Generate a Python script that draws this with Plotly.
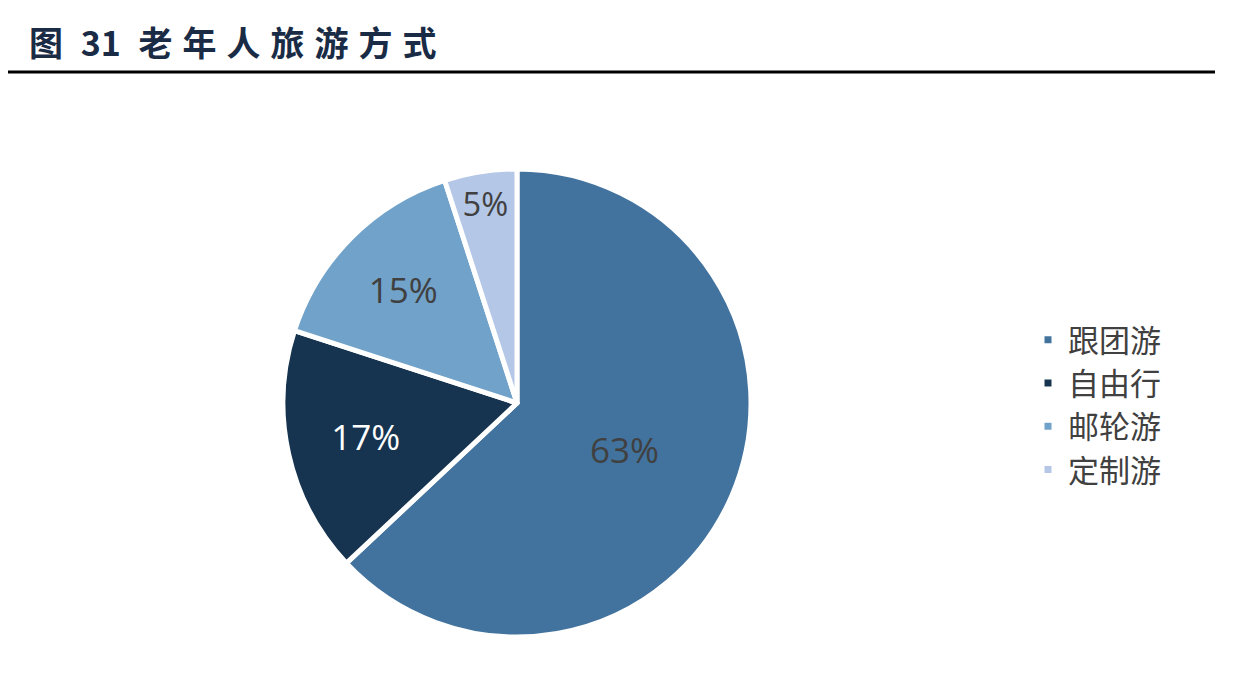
import plotly.graph_objects as go

# datos del grafico
labels = ["跟团游", "自由行", "邮轮游", "定制游"]
values = [63, 17, 15, 5]
colores = ["#42739E", "#16344F", "#71A2C9", "#B4C7E7"]
colores_texto = ["#404040", "#FFFFFF", "#404040", "#404040"]

W, H = 1242, 674
off = 8  # margen del body de la pagina
cx, cy, r = 517 - off, 403 - off, 234

fig = go.Figure()
fig.add_trace(go.Pie(
    labels=labels,
    values=values,
    sort=False,
    direction="clockwise",
    rotation=0,
    textinfo="percent",
    texttemplate="%{percent:.0%}",
    textposition="inside",
    insidetextorientation="horizontal",
    textfont=dict(family="Open Sans, Noto Sans", size=35, color=colores_texto),
    marker=dict(colors=colores, line=dict(color="white", width=5)),
    domain=dict(x=[(cx - r) / W, (cx + r) / W], y=[(H - cy - r) / H, (H - cy + r) / H]),
))

titulo = ("<b><span style='letter-spacing:10px'>图</span> 31"
          "<span style='letter-spacing:10px'>\u00a0老年人旅游方式</span></b>")

fig.update_layout(
    width=W, height=H,
    margin=dict(l=0, r=0, t=0, b=0),
    paper_bgcolor="white",
    plot_bgcolor="white",
    showlegend=True,
    legend=dict(
        x=(1028 - off) / W, y=(H - 405 + off) / H, xanchor="left", yanchor="middle",
        font=dict(family="Noto Sans CJK SC", size=31, color="#404040"),
        itemwidth=30,
    ),
    title=dict(
        text=titulo,
        x=(29 - off) / W, xanchor="left", y=1 - (44 - off) / H, yanchor="middle",
        font=dict(family="Noto Sans CJK SC", size=34, color="#1A2B45"),
    ),
    shapes=[
        dict(type="line", xref="paper", yref="paper", x0=0, x1=(1215 - off) / W,
             y0=1 - (72 - off) / H, y1=1 - (72 - off) / H, line=dict(color="black", width=3)),
    ],
)

fig.write_html("out.html")
